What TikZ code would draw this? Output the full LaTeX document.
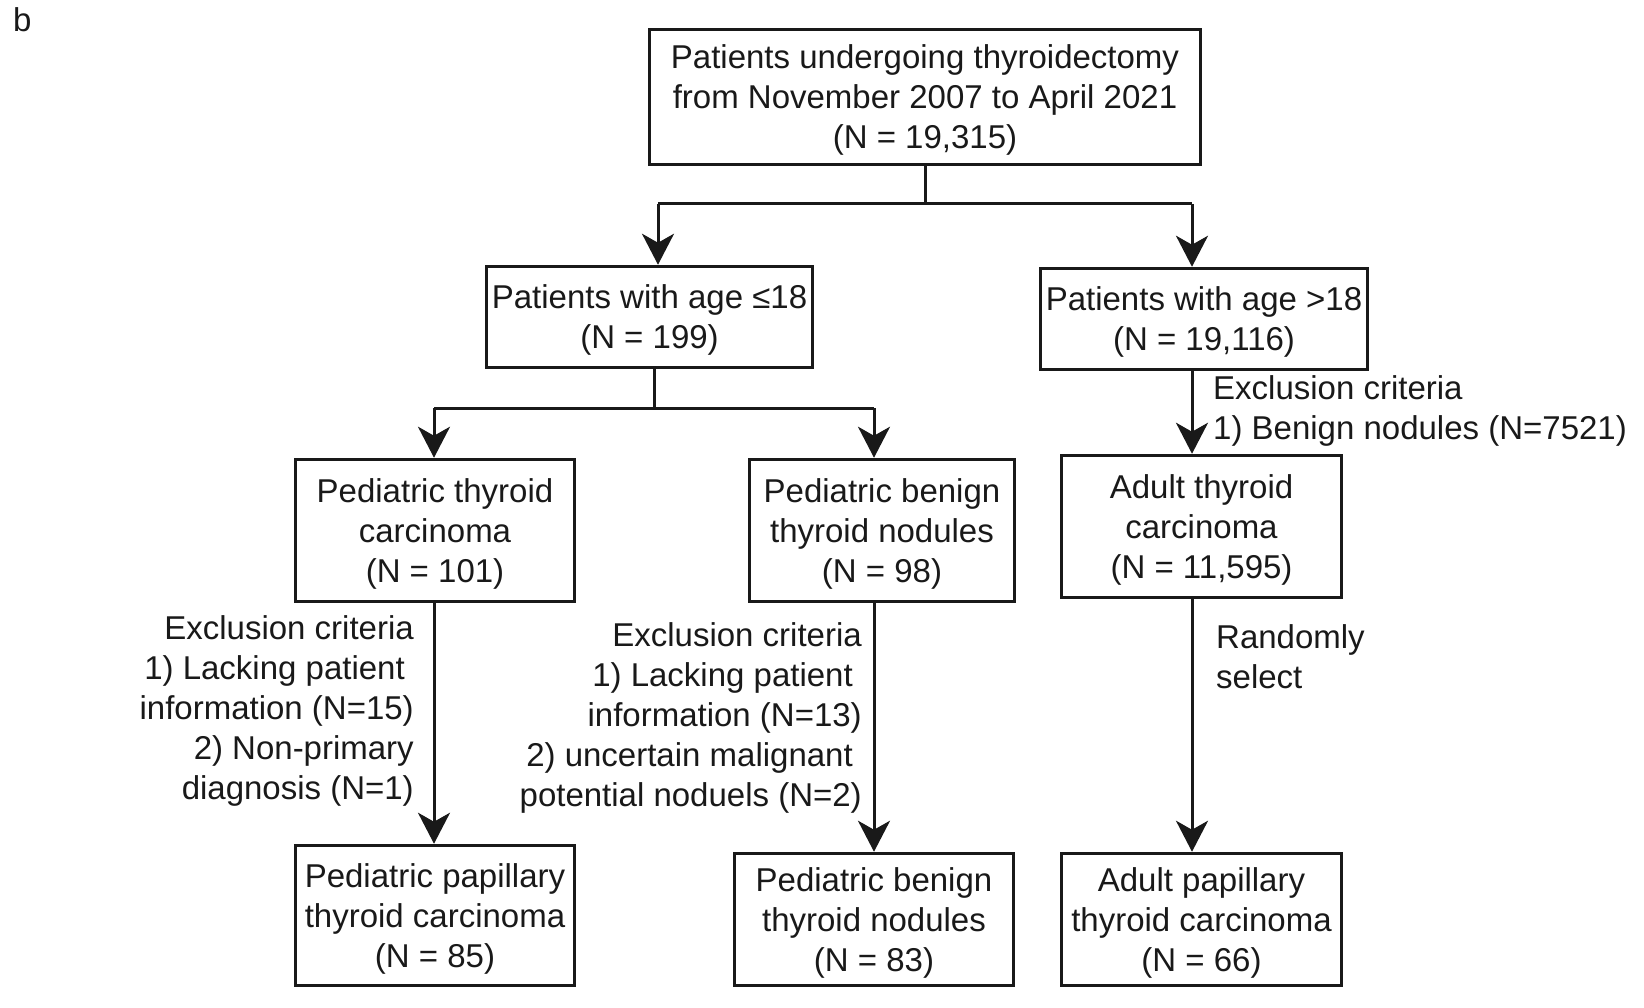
\documentclass[tikz,border=0pt]{standalone}
\usepackage{fontspec}
\setmainfont{Liberation Sans}
\usetikzlibrary{arrows.meta}
\newcommand{\tstrut}{\rule{0pt}{30pt}}
\begin{document}
\begin{tikzpicture}[x=1pt,y=-1pt,
  every node/.style={font=\fontsize{33}{40}\selectfont, text=black!90},
  box/.style={draw=black!90, line width=3.5pt, inner sep=0pt, align=center},
  conn/.style={draw=black!90, line width=3pt},
  arr/.style={conn, -{Stealth[length=31pt,width=32pt,inset=9pt]}},
  lab/.style={inner sep=0pt}
]
\useasboundingbox (0,0) rectangle (1644,1008);
\node[lab, anchor=west] (blabel) at (13,20) {b};

\node[box, minimum width=551pt, minimum height=135pt] (top) at (925,97)
  {\tstrut Patients undergoing thyroidectomy\\from November 2007 to April 2021\\(N = 19,315)};
\node[box, minimum width=326pt, minimum height=101pt] (le) at (649.5,317)
  {\tstrut Patients with age ≤18\\(N = 199)};
\node[box, minimum width=327pt, minimum height=101pt] (gt) at (1204,319)
  {\tstrut Patients with age >18\\(N = 19,116)};
\node[box, minimum width=279pt, minimum height=142pt] (ptc) at (435,530.5)
  {\tstrut Pediatric thyroid\\carcinoma\\(N = 101)};
\node[box, minimum width=265pt, minimum height=142pt] (pbn) at (882,530.5)
  {\tstrut Pediatric benign\\thyroid nodules\\(N = 98)};
\node[box, minimum width=280pt, minimum height=142pt] (atc) at (1201.5,526.5)
  {\tstrut Adult thyroid\\carcinoma\\(N = 11,595)};
\node[box, minimum width=279pt, minimum height=140pt] (pptc) at (435,915.5)
  {\tstrut Pediatric papillary\\thyroid carcinoma\\(N = 85)};
\node[box, minimum width=279pt, minimum height=132pt] (pbn2) at (874,919.5)
  {\tstrut Pediatric benign\\thyroid nodules\\(N = 83)};
\node[box, minimum width=280pt, minimum height=132pt] (aptc) at (1201.5,919.5)
  {\tstrut Adult papillary\\thyroid carcinoma\\(N = 66)};

\node[lab, anchor=west, align=left] (exR) at (1213,411)
  {Exclusion criteria\\1) Benign nodules (N=7521)};
\node[lab, anchor=east, align=right] (exL) at (414,711)
  {Exclusion criteria\\1) Lacking patient\kern9pt\\information (N=15)\\2) Non-primary\\diagnosis (N=1)};
\node[lab, anchor=east, align=right] (exM) at (862,717.5)
  {Exclusion criteria\\1) Lacking patient\kern9pt\\information (N=13)\\2) uncertain malignant\kern9pt\\potential noduels (N=2)};
\node[lab, anchor=west, align=left] (rand) at (1216,656.5)
  {Randomly\\select};

\coordinate (s1) at (925,204);
\coordinate (s1L) at (658,204);
\coordinate (s1R) at (1192,204);
\draw[conn] (top.south) -- (s1);
\draw[conn] (s1L) -- (s1R);
\draw[arr] (s1L) -- (s1L |- le.north);
\draw[arr] (s1R) -- (s1R |- gt.north);

\coordinate (s2) at (654,408);
\coordinate (s2L) at (434,408);
\coordinate (s2R) at (874,408);
\draw[conn] (s2 |- le.south) -- (s2);
\draw[conn] (s2L) -- (s2R);
\draw[arr] (s2L) -- (s2L |- ptc.north);
\draw[arr] (s2R) -- (s2R |- pbn.north);

\draw[arr] (s1R |- gt.south) -- (s1R |- atc.north);
\draw[arr] (s2L |- ptc.south) -- (s2L |- pptc.north);
\draw[arr] (s2R |- pbn.south) -- (pbn2.north);
\draw[arr] (s1R |- atc.south) -- (s1R |- aptc.north);
\end{tikzpicture}
\end{document}
